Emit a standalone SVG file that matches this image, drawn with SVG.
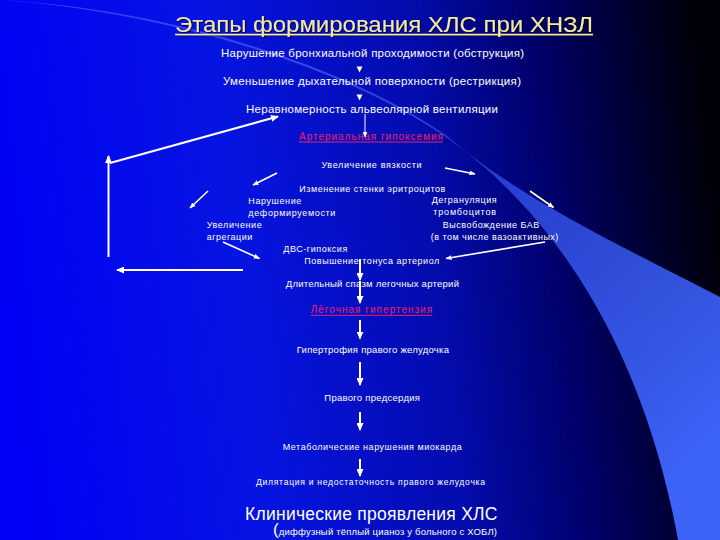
<svg xmlns="http://www.w3.org/2000/svg" width="720" height="540" viewBox="0 0 720 540">
<defs>
<linearGradient id="bg" gradientUnits="userSpaceOnUse" x1="0" y1="300" x2="720" y2="220">
<stop offset="0" stop-color="#0000f6"/>
<stop offset="0.33" stop-color="#0614e2"/>
<stop offset="0.6" stop-color="#040cae"/>
<stop offset="0.78" stop-color="#000068"/>
<stop offset="0.92" stop-color="#000028"/>
<stop offset="1" stop-color="#000008"/>
</linearGradient>
<linearGradient id="band" gradientUnits="userSpaceOnUse" x1="250" y1="30" x2="690" y2="460">
<stop offset="0" stop-color="#6a86ff" stop-opacity="0.45"/>
<stop offset="0.45" stop-color="#3452ea" stop-opacity="0.75"/>
<stop offset="1" stop-color="#3c62f6" stop-opacity="1"/>
</linearGradient>
<marker id="ah" markerUnits="userSpaceOnUse" markerWidth="8" markerHeight="7" refX="7" refY="3.5" orient="auto">
<path d="M0,0 L8,3.5 L0,7 z" fill="#ffffff"/>
</marker>
<marker id="ahs" markerUnits="userSpaceOnUse" markerWidth="6" markerHeight="5" refX="5.5" refY="2.5" orient="auto">
<path d="M0,0 L6,2.5 L0,5 z" fill="#ffffff"/>
</marker>
<filter id="sh" x="-5%" y="-20%" width="110%" height="150%">
<feDropShadow dx="1" dy="1" stdDeviation="0.3" flood-color="#000000" flood-opacity="0.8"/>
</filter>
</defs>
<style>
text { font-family: "Liberation Sans", Arial, sans-serif; fill: #ffffff; }
.t1 { font-size: 11.5px; }
.t2 { font-size: 9px; }
.t3 { font-size: 9.5px; }
.red { font-size: 10px; fill: #ec2068; }
.redu { stroke: #ec2068; stroke-width: 1; }
.c { stroke: #ffffff; stroke-width: 2; fill: none; marker-end: url(#ah); }
.d { stroke: #ffffff; stroke-width: 1.6; fill: none; marker-end: url(#ahs); }
.tri { fill: #ffffff; }
</style>

<rect x="0" y="0" width="720" height="540" fill="url(#bg)"/>
<path d="M0,0 C150,10 330,60 440,133 C540,200 640,330 678,540 L720,540 L720,297 C640,255 520,200 447,136 C340,62 160,8 0,0 Z" fill="url(#band)"/>

<g id="title" filter="url(#sh)">
<text x="175" y="32" font-size="22" textLength="418" lengthAdjust="spacingAndGlyphs" style="fill:#f3e7a6">Этапы формирования ХЛС при ХНЗЛ</text>
<line x1="175" y1="34.5" x2="593" y2="34.5" stroke="#f3e7a6" stroke-width="1.5"/>
</g>

<g id="n1"><text class="t1" x="221" y="56.5" textLength="303" lengthAdjust="spacing">Нарушение бронхиальной проходимости (обструкция)</text></g>
<g id="n2"><text class="t1" x="223" y="84.5" textLength="298" lengthAdjust="spacing">Уменьшение дыхательной поверхности (рестрикция)</text></g>
<g id="n3"><text class="t1" x="246" y="113" textLength="252" lengthAdjust="spacing">Неравномерность альвеолярной вентиляции</text></g>
<g id="n4">
<text class="red" x="299" y="140" textLength="144" lengthAdjust="spacing">Артериальная гипоксемия</text>
<line class="redu" x1="299" y1="142" x2="443" y2="142"/>
</g>
<g id="n5"><text class="t2" x="321.5" y="168" textLength="100" lengthAdjust="spacing">Увеличение вязкости</text></g>
<g id="n6"><text class="t2" x="299.3" y="192" textLength="146" lengthAdjust="spacing">Изменение стенки эритроцитов</text></g>
<g id="n7">
<text class="t2" x="248.3" y="203.5" textLength="53" lengthAdjust="spacing">Нарушение</text>
<text class="t2" x="248.3" y="215.7" textLength="87" lengthAdjust="spacing">деформируемости</text>
</g>
<g id="n8">
<text class="t2" x="431.7" y="203.3" textLength="65" lengthAdjust="spacing">Дегрануляция</text>
<text class="t2" x="433.3" y="215" textLength="62.7" lengthAdjust="spacing">тромбоцитов</text>
</g>
<g id="n9">
<text class="t2" x="442.7" y="228.3" textLength="96.6" lengthAdjust="spacing">Высвобождение БАВ</text>
<text class="t2" x="430.7" y="240" textLength="127.6" lengthAdjust="spacing">(в том числе вазоактивных)</text>
</g>
<g id="n10">
<text class="t2" x="206.7" y="228.3" textLength="55" lengthAdjust="spacing">Увеличение</text>
<text class="t2" x="206.7" y="239.5" textLength="45.6" lengthAdjust="spacing">агрегации</text>
</g>
<g id="n11"><text class="t2" x="283.3" y="251.7" textLength="64" lengthAdjust="spacing">ДВС-гипоксия</text></g>
<g id="n12"><text class="t2" x="304.3" y="264" textLength="135" lengthAdjust="spacing">Повышение тонуса артериол</text></g>
<g id="n13"><text class="t3" x="285.7" y="287.3" textLength="173.3" lengthAdjust="spacing">Длительный спазм легочных артерий</text></g>
<g id="n14">
<text class="red" x="310.7" y="313.3" textLength="121.6" lengthAdjust="spacing">Лёгочная гипертензия</text>
<line class="redu" x1="310.7" y1="315.3" x2="432.3" y2="315.3"/>
</g>
<g id="n15"><text class="t3" x="296.7" y="353.3" textLength="152.3" lengthAdjust="spacing">Гипертрофия правого желудочка</text></g>
<g id="n16"><text class="t3" x="324.3" y="401" textLength="95.7" lengthAdjust="spacing">Правого предсердия</text></g>
<g id="n17"><text class="t2" x="282.7" y="450" textLength="179" lengthAdjust="spacing">Метаболические нарушения миокарда</text></g>
<g id="n18"><text class="t2" x="256" y="485.3" textLength="229" lengthAdjust="spacing" style="font-size:8.6px">Дилятация и недостаточность правого желудочка</text></g>
<g id="n19"><text x="245" y="519.5" font-size="17.5" textLength="252.5" lengthAdjust="spacing">Клинические проявления ХЛС</text></g>
<g id="n20"><text x="273" y="535" textLength="224" lengthAdjust="spacing"><tspan font-size="17">(</tspan><tspan font-size="9.5">диффузный тёплый цианоз у больного с ХОБЛ)</tspan></text></g>

<g id="connectors">
<polygon class="tri" points="356.5,66.5 362.5,66.5 359.5,72.5"/>
<polygon class="tri" points="356.5,94.5 362.5,94.5 359.5,100.5"/>
<line x1="365" y1="114" x2="365" y2="137" stroke="#ffffff" stroke-width="1" marker-end="url(#ahs)"/>
<line class="c" x1="243" y1="270" x2="117" y2="270"/>
<line class="c" x1="108.5" y1="257" x2="108.5" y2="156"/>
<line class="c" x1="110" y1="163" x2="278" y2="116.5"/>
<line class="d" x1="445" y1="168" x2="475" y2="174"/>
<line class="d" x1="277" y1="173" x2="253" y2="185"/>
<line class="d" x1="208" y1="191" x2="190" y2="208"/>
<line class="d" x1="530" y1="191" x2="553.5" y2="207.5"/>
<line class="d" x1="223" y1="242" x2="259.5" y2="258.5"/>
<line class="d" x1="545" y1="242" x2="446" y2="258.5"/>
<line class="c" x1="360" y1="259" x2="360" y2="280"/>
<line class="c" x1="360" y1="281" x2="360" y2="303"/>
<line class="c" x1="360" y1="320" x2="360" y2="338.5"/>
<line class="c" x1="360" y1="362" x2="360" y2="385"/>
<line class="c" x1="360" y1="412" x2="360" y2="430"/>
<line class="c" x1="360" y1="459" x2="360" y2="476"/>
</g>
</svg>
